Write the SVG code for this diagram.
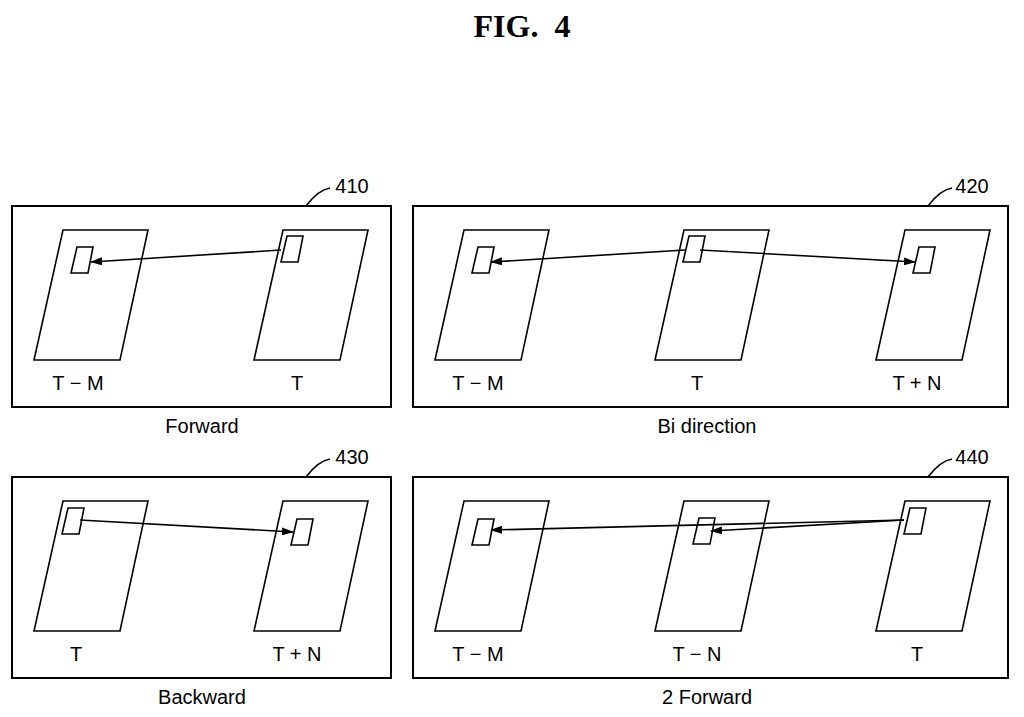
<svg xmlns="http://www.w3.org/2000/svg" width="1024" height="717" viewBox="0 0 1024 717">
<style>
.b{fill:none;stroke:#000;stroke-width:2}
.f{fill:none;stroke:#000;stroke-width:1.6}
.t{font-family:"Liberation Sans",Arial,sans-serif;font-size:20px;fill:#000;text-anchor:middle}
.a{stroke:#000;stroke-width:1.6;fill:none;marker-end:url(#ah)}
</style>
<defs>
<marker id="ah" markerWidth="12" markerHeight="8" refX="11" refY="4" orient="auto" markerUnits="userSpaceOnUse"><path d="M0,0 L12,4 L0,8 Z" fill="#000"/></marker>
<path id="fr" d="M29,0 L114,0 L86,130 L0,130 Z"/>
<path id="sr" d="M6,0 L22,0 L17,26 L0,26 Z"/>
</defs>
<rect width="1024" height="717" fill="#fff"/>
<text x="522" y="37" font-family="Liberation Serif,serif" font-size="32" font-weight="bold" text-anchor="middle" xml:space="preserve">FIG.  4</text>

<g id="n410">
<rect class="b" x="12" y="206" width="379" height="201"/>
<use href="#fr" x="34" y="230" class="f"/><use href="#fr" x="254" y="230" class="f"/>
<use href="#sr" x="71" y="247" class="f"/><use href="#sr" x="281" y="236" class="f"/>
<text class="t" x="78" y="390">T − M</text><text class="t" x="297" y="390">T</text>
<text class="t" x="202" y="433">Forward</text>
<path class="f" d="M306,206 Q318,190 330,188"/><text class="t" x="352" y="193">410</text>
</g>
<g id="n420">
<rect class="b" x="413" y="206" width="595" height="201"/>
<use href="#fr" x="435" y="230" class="f"/><use href="#fr" x="655" y="230" class="f"/><use href="#fr" x="876" y="230" class="f"/>
<use href="#sr" x="472" y="247" class="f"/><use href="#sr" x="683" y="236" class="f"/><use href="#sr" x="913" y="247" class="f"/>
<text class="t" x="478" y="390">T − M</text><text class="t" x="697" y="390">T</text><text class="t" x="917" y="390">T + N</text>
<text class="t" x="707" y="433">Bi direction</text>
<path class="f" d="M928,206 Q940,190 952,188"/><text class="t" x="972" y="193">420</text>
</g>
<g id="n430">
<rect class="b" x="12" y="477" width="379" height="201"/>
<use href="#fr" x="34" y="501" class="f"/><use href="#fr" x="254" y="501" class="f"/>
<use href="#sr" x="62" y="508" class="f"/><use href="#sr" x="291" y="519" class="f"/>
<text class="t" x="76" y="661">T</text><text class="t" x="297" y="661">T + N</text>
<text class="t" x="202" y="704">Backward</text>
<path class="f" d="M306,477 Q318,461 330,459"/><text class="t" x="352" y="464">430</text>
</g>
<g id="n440">
<rect class="b" x="413" y="477" width="595" height="201"/>
<use href="#fr" x="435" y="501" class="f"/><use href="#fr" x="655" y="501" class="f"/><use href="#fr" x="876" y="501" class="f"/>
<use href="#sr" x="472" y="519" class="f"/><use href="#sr" x="693" y="518" class="f"/><use href="#sr" x="904" y="508" class="f"/>
<text class="t" x="478" y="661">T − M</text><text class="t" x="697" y="661">T − N</text><text class="t" x="917" y="661">T</text>
<text class="t" x="707" y="704">2 Forward</text>
<path class="f" d="M928,477 Q940,461 952,459"/><text class="t" x="972" y="464">440</text>
</g>
<g id="connectors">
<path class="a" d="M281,250 L91,262"/>
<path class="a" d="M685,250 L491,262"/>
<path class="a" d="M700,250 L915,262"/>
<path class="a" d="M80,520 L293,532"/>
<path class="a" d="M904,520 L491,530"/>
<path class="a" d="M904,520 L711,531"/>
</g>
</svg>
